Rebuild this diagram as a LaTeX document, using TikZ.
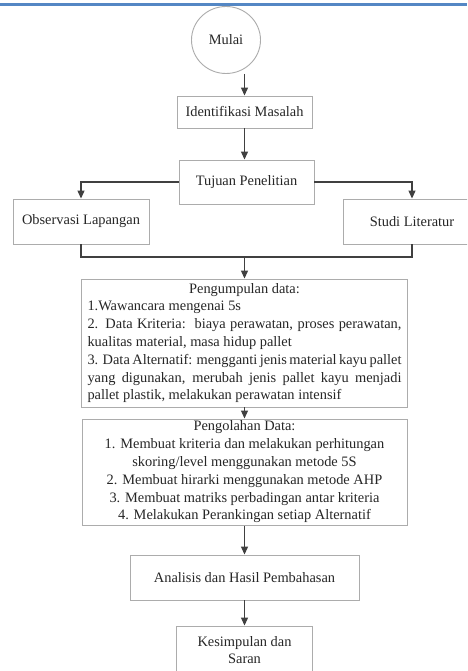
\documentclass[tikz,border=0pt]{standalone}
\usepackage{fontspec}
\setmainfont{Liberation Serif}
\usepackage{tikz}
\usetikzlibrary{shapes,arrows.meta,positioning,calc}
\setlength{\parindent}{0pt}

\begin{document}
\begin{tikzpicture}[x=1pt, y=-1pt,
        every node/.style={font=\fontsize{14.4}{17.8}\selectfont, text=black!85},
        kotak/.style={draw=gray!65, line width=0.9pt, minimum width=135pt, minimum height=45pt, inner sep=2pt, align=center},
        panah/.style={-{Triangle[length=8pt,width=7pt]}, line width=1.2pt, draw=black!75},
        garis/.style={line width=1.2pt, draw=black!75}]
        \definecolor{tepibiru}{RGB}{84,135,196}

        % Cropped frame with the blue edge on top
        \clip (0,0) rectangle (467,671);
        \fill[white] (0,0) rectangle (467,671);
        \draw[tepibiru, line width=2.8pt] (0,4.3) -- (467,4.3);

        % Mulai
        \node[draw=gray!65, line width=0.9pt, ellipse, minimum width=69pt, minimum height=67pt] (mulai) at (226,40) {Mulai};

        % Identifikasi Masalah
        \node[kotak, minimum height=32pt] (identifikasi) at (244.5,112) {Identifikasi Masalah};

        % Tujuan Penelitian
        \node[kotak, minimum height=44pt] (tujuan) at (246.5,182) {Tujuan Penelitian};

        % Observasi Lapangan and Studi Literatur
        \node[kotak, minimum width=136pt] (observasi) at (81,221.5) {Observasi Lapangan};
        \node[kotak, minimum width=138pt] (studi) at (412,221.5) {Studi Literatur};

        % Pengumpulan data
        \node[kotak, text width=314pt, inner xsep=6pt, align=justify, minimum height=128pt] (pengumpulan) at (244.5,343) {{\centering Pengumpulan data:\par}
            1.Wawancara mengenai 5s\par
            2. Data Kriteria:\ \ biaya perawatan, proses perawatan,\linebreak kualitas material, masa hidup pallet\par
            3. Data Alternatif: mengganti jenis material kayu pallet\linebreak yang digunakan, merubah jenis pallet kayu menjadi\linebreak pallet plastik, melakukan perawatan intensif};

        % Pengolahan Data
        \node[kotak, minimum width=325pt, minimum height=106pt] (pengolahan) at (244.5,472) {Pengolahan Data:\\1. Membuat kriteria dan melakukan perhitungan\\skoring/level menggunakan metode 5S\\2. Membuat hirarki menggunakan metode AHP\\3. Membuat matriks perbadingan antar kriteria\\4. Melakukan Perankingan setiap Alternatif};

        % Analisis dan Hasil Pembahasan
        \node[kotak, minimum width=229pt] (analisis) at (244.5,577.5) {Analisis dan Hasil Pembahasan};

        % Kesimpulan dan Saran
        \node[kotak, minimum width=136pt, minimum height=48pt] (kesimpulan) at (244.5,650) {Kesimpulan dan\\Saran};

        % Arrows
        \coordinate (gabung) at (244.5,257);
        \draw[panah] (mulai.south -| identifikasi.north) -- (identifikasi.north);
        \draw[panah] (identifikasi.south) -- (identifikasi.south |- tujuan.north);
        \draw[panah] (tujuan.west) -| (observasi.north);
        \draw[panah] (tujuan.east) -| (studi.north);
        \draw[garis] (observasi.south) |- (gabung) -| (studi.south);
        \draw[panah] (gabung) -- (pengumpulan.north);
        \draw[panah] (pengumpulan.south) -- (pengolahan.north);
        \draw[panah] (pengolahan.south) -- (analisis.north);
        \draw[panah] (analisis.south) -- (kesimpulan.north);
    \end{tikzpicture}
\end{document}
